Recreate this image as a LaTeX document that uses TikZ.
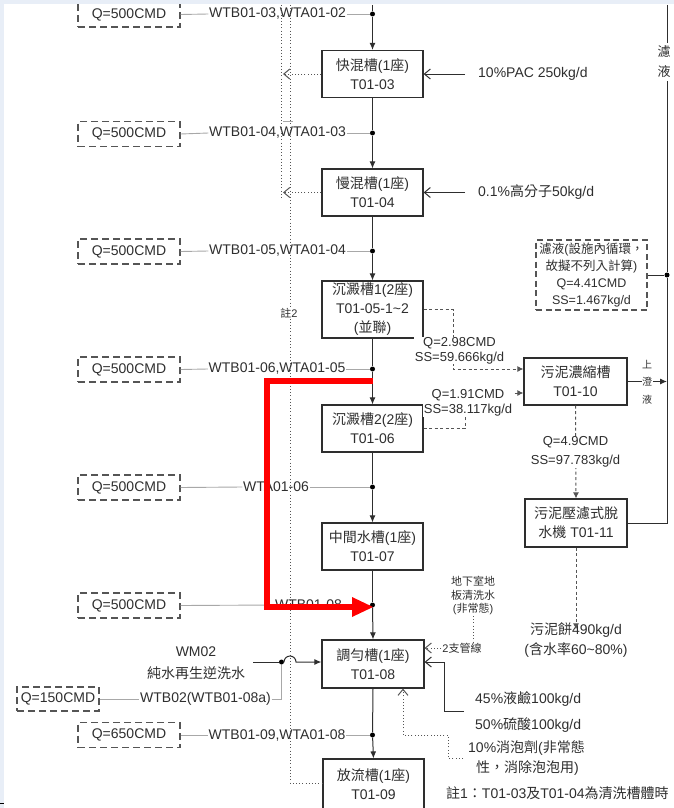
\documentclass[tikz,border=0pt]{standalone}
\usepackage{fontspec}
\setmainfont{Liberation Sans}
\newfontfamily\cjk{Noto Sans CJK TC}
\newcommand\zh[1]{{\cjk #1}}
\usetikzlibrary{arrows.meta}
\definecolor{bgstrip}{HTML}{E8EEF7}
\definecolor{ink}{HTML}{2E2E2E}
\definecolor{qgray}{HTML}{555555}
\definecolor{lgray}{HTML}{A8A8A8}
\newcommand\fsA{\fontsize{14}{19}\selectfont}
\newcommand\fsB{\fontsize{13}{15}\selectfont}
\newcommand\fsC{\fontsize{11}{13.5}\selectfont}
\begin{document}
\begin{tikzpicture}[x=1pt,y=-1pt,
  every node/.append style={text=ink},
  tank/.style={draw=ink, line width=1.2pt, fill=white, minimum width=101pt, minimum height=47pt, align=center, font=\fsA, inner sep=1pt},
  qbox/.style={draw=qgray, line width=1.1pt, dash pattern=on 7pt off 4pt, minimum width=102pt, minimum height=25pt, font=\fsA, inner sep=0pt},
  wlbl/.style={font=\fsA, inner sep=0.5pt},
  gline/.style={draw=lgray, line width=0.9pt},
  flow/.style={draw=ink, line width=1pt},
  fa/.style={flow, -{Latex[length=7pt,width=6pt]}},
  jdot/.style={circle, fill=black, inner sep=0pt, minimum size=5pt},
  sdash/.style={draw=qgray, line width=1pt, dash pattern=on 3pt off 2.5pt},
  sarrow/.style={sdash, -{Latex[length=6pt,width=6pt]}},
  dotl/.style={draw=qgray, line width=1pt, dash pattern=on 1pt off 2.2pt},
  barb/.style={-{Straight Barb[length=6pt,width=10pt]}},
  wlab/.style={fill=white, font=\fsB, align=center, inner sep=0.5pt},
  chem/.style={font=\fsA, anchor=west, inner sep=0pt}
]
\useasboundingbox (0,0) rectangle (674,808);

% ---------------- main tanks ----------------
\node[tank] (T03) at (372.5,74) {\zh{快混槽}(1\zh{座})\\T01-03};
\node[tank] (T04) at (372.5,192.5) {\zh{慢混槽}(1\zh{座})\\T01-04};
\node[tank, minimum height=57pt] (T05) at (372.5,309.5) {\zh{沉澱槽}1(2\zh{座})\\T01-05-1\textasciitilde 2\\(\zh{並聯})};
\node[tank] (T06) at (372.5,428.5) {\zh{沉澱槽}2(2\zh{座})\\T01-06};
\node[tank] (T07) at (372.5,546.5) {\zh{中間水槽}(1\zh{座})\\T01-07};
\node[tank, minimum width=102pt, minimum height=48pt] (T08) at (373,664) {\zh{調勻槽}(1\zh{座})\\T01-08};
\node[tank, minimum height=50pt] (T09) at (373.5,784) {\zh{放流槽}(1\zh{座})\\T01-09};

% ---------------- junction dots ----------------
\node[jdot] (d1) at (372.5,14) {};
\node[jdot] (d2) at (372.5,133) {};
\node[jdot] (d3) at (372.5,251) {};
\node[jdot] (d4) at (372.5,369) {};
\node[jdot] (d5) at (372.5,487) {};
\node[jdot] (d6) at (372.5,605) {};
\node[jdot] (d7) at (372.5,735) {};

% ---------------- Q boxes and line labels ----------------
\node[qbox] (q1) at (129,14.5) {Q=500CMD};
\node[qbox] (q2) at (129,134) {Q=500CMD};
\node[qbox] (q3) at (129,251.5) {Q=500CMD};
\node[qbox] (q4) at (129,369.5) {Q=500CMD};
\node[qbox] (q5) at (129,487.5) {Q=500CMD};
\node[qbox] (q6) at (129,605.5) {Q=500CMD};
\node[qbox] (q7) at (129,735) {Q=650CMD};
\node[qbox, minimum width=82pt, minimum height=24pt] (q8) at (58,699) {Q=150CMD};

\node[wlbl] (w1) at (277.5,14) {WTB01-03,WTA01-02};
\node[wlbl] (w2) at (277.5,133) {WTB01-04,WTA01-03};
\node[wlbl] (w3) at (277.5,251) {WTB01-05,WTA01-04};
\node[wlbl] (w4) at (277,369) {WTB01-06,WTA01-05};
\node[wlbl] (w5) at (276,487) {WTA01-06};
\node[wlbl] (w6) at (308.5,605) {WTB01-08};
\node[wlbl] (w7) at (277,735) {WTB01-09,WTA01-08};
\node[wlbl] (w8) at (205.5,699) {WTB02(WTB01-08a)};

\foreach \i in {1,...,7}{
  \draw[gline] (q\i.east) -- (w\i.west);
  \draw[gline] (w\i.east) -- (d\i);
}

% ---------------- left dotted lines ----------------
\coordinate (l1t) at (281,5);
\coordinate (l1b) at (281,200);
\coordinate (l2t) at (290,5);
\coordinate (l2b) at (290,783);
\coordinate (ar1) at (283,74);
\coordinate (ar2) at (283,192.5);
\coordinate (tk1) at (283,121);
\coordinate (tk2) at (293,121);
\draw[dotl] (l1t) -- (l1b);
\draw[dotl] (l2t) -- (l2b) -- (l2b -| T09.west);
\draw[dotl, barb] (T03.west) -- (ar1);
\draw[dotl, barb] (T04.west) -- (ar2);
\draw[lgray, line width=0.8pt] (tk1) -- (tk2);
\node[font=\fsC, fill=white, inner sep=1pt] (n2) at (289,313) {\zh{註}2};

% ---------------- main flow ----------------
\coordinate (top) at (372.5,5);
\draw[flow] (top) -- (d1);
\draw[fa] (d1) -- (T03.north);
\draw[flow] (T03.south) -- (d2);
\draw[fa] (d2) -- (T04.north);
\draw[flow] (T04.south) -- (d3);
\draw[fa] (d3) -- (T05.north);
\draw[flow] (T05.south) -- (d4);
\draw[fa] (d4) -- (T06.north);
\draw[flow] (T06.south) -- (d5);
\draw[fa] (d5) -- (T07.north);
\draw[flow] (T07.south) -- (d6);
\draw[fa] (d6) -- (T08.north);
\draw[flow] (T08.south) -- (d7);
\draw[fa] (d7) -- (T09.north);

% ---------------- chemicals ----------------
\node[chem] (pac) at (478,74) {10\%PAC 250kg/d};
\node[chem] (poly) at (478,192.5) {0.1\%\zh{高分子}50kg/d};
\draw[flow, barb] ([xshift=-13pt]pac.west) -- (T03.east);
\draw[flow, barb] ([xshift=-13pt]poly.west) -- (T04.east);

% ---------------- WM02 backwash ----------------
\node[font=\fontsize{14}{22}\selectfont, align=center, inner sep=1pt] (wm) at (196,663) {WM02\\\zh{純水再生逆洗水}};
\node[jdot] (wd) at (281.5,662) {};
\coordinate (wms) at (253,662);
\coordinate (jp) at (284,662);
\coordinate (wb) at (281.5,699);
\draw[flow] (wms) -- (wd);
\draw[fa] (wd) -- (jp) arc[start angle=180, end angle=0, radius=6pt] -- (T08.west |- wd);
\draw[gline] (q8.east) -- (w8.west);
\draw[gline] (w8.east) -- (wb) -- (wd);

% ---------------- T01-08 inputs on the right ----------------
\node[chem] (naoh) at (475,699) {45\%\zh{液鹼}100kg/d};
\node[chem] (acid) at (475,725) {50\%\zh{硫酸}100kg/d};
\coordinate (cj1) at (464,711);
\coordinate (cj2) at (444,711);
\coordinate (cj3) at (444,662);
\draw[flow, barb] (cj1) -- (cj2) -- (cj3) -- (cj3 -| T08.east);

\node[chem] (af1) at (468,748) {10\%\zh{消泡劑}(\zh{非常態}};
\node[chem] (af2) at (476,768) {\zh{性，消除泡泡用})};
\coordinate (a1) at (463,758);
\coordinate (a2) at (448,758);
\coordinate (a3) at (448,735);
\coordinate (a4) at (403,735);
\draw[dotl, barb] (a1) -- (a2) -- (a3) -- (a4) -- (a4 |- T08.south);

\node[font=\fsC, align=center, inner sep=1pt] (floor) at (473,595.5) {\zh{地下室地}\\\zh{板清洗水}\\(\zh{非常態})};
\node[font=\fsC, inner sep=1pt] (pipes) at (462,648) {2\zh{支管線}};
\draw[dotl] (floor.south) -- (floor.south |- pipes.north);
\draw[dotl, barb] (pipes.west) -- (pipes.west -| T08.east);

\node[chem] (n1) at (446,793) {\zh{註}1\zh{：}T01-03\zh{及}T01-04\zh{為清洗槽體時}};

% ---------------- sludge train ----------------
\node[tank, minimum width=103pt] (T10) at (575.5,381.5) {\zh{污泥濃縮槽}\\T01-10};
\node[tank, minimum width=102pt, minimum height=48pt] (T11) at (576,523) {\zh{污泥壓濾式脫}\\\zh{水機} T01-11};
\node[font=\fontsize{14}{20}\selectfont, align=center, inner sep=1pt] (cake) at (576,640) {\zh{污泥餅}490kg/d\\(\zh{含水率}60\textasciitilde 80\%)};

\coordinate (sa1) at (453,309.5);
\coordinate (sa2) at (453,369);
\draw[sarrow] (T05.east) -- (sa1) -- (sa2) -- (sa2 -| T10.west);
\node[wlab] (la) at (459.5,350.5) {Q=2.98CMD\\SS=59.666kg/d};

\coordinate (sb1) at (465,428.5);
\coordinate (sb2) at (465,393);
\draw[sarrow] (T06.east) -- (sb1) -- (sb2) -- (sb2 -| T10.west);
\node[wlab] (lb) at (468,403) {Q=1.91CMD\\SS=38.117kg/d};

\draw[sarrow] (T10.south) -- (T11.north);
\node[wlab, font=\fontsize{13}{19}\selectfont] (lc) at (575.5,452) {Q=4.9CMD\\SS=97.783kg/d};
\draw[sarrow] (T11.south) -- ([yshift=-8pt]cake.north);

% ---------------- filtrate return ----------------
\node[qbox, minimum width=111pt, minimum height=70pt, align=center, font=\fontsize{12.5}{17}\selectfont, dash pattern=on 6pt off 3.5pt, inner sep=1pt] (filt) at (591.5,275) {\zh{濾液}(\zh{設施內循環，}\\\zh{故擬不列入計算})\\Q=4.41CMD\\SS=1.467kg/d};
\node[font=\fontsize{13}{20}\selectfont, align=center, inner xsep=1pt, inner ysep=3pt] (flab) at (664,62) {\zh{濾}\\\zh{液}};
\coordinate (rtop) at (667,5);
\coordinate (rc) at (667,523);
\node[jdot] (d8) at (667,275) {};
\draw[flow] (rtop) -- (rtop |- flab.north);
\draw[flow] (T11.east) -- (rc) -- (d8) -- (d8 |- flab.south);
\draw[flow] (filt.east) -- (d8);
\draw[fa] (T10.east) -- (T10.east -| rc);
\node[font=\fontsize{10}{17.5}\selectfont, align=center, fill=white, inner xsep=0.5pt, inner ysep=0pt] (sup) at (647,382) {\zh{上}\\\zh{澄}\\\zh{液}};

% ---------------- red annotation ----------------
\coordinate (r1) at (372.5,381);
\coordinate (r2) at (267,381);
\coordinate (r3) at (267,607);
\coordinate (r4) at (352,607);
\coordinate (r5) at (352,597);
\coordinate (r6) at (373,607);
\coordinate (r7) at (352,617);
\draw[red, line width=6pt] (r1) -- (r2) -- (r3) -- (r4);
\fill[red] (r5) -- (r6) -- (r7) -- cycle;

% ---------------- frame strips ----------------
\coordinate (bg1) at (674,4.5);
\coordinate (bg2) at (4,808);
\coordinate (bd1) at (0,803);
\coordinate (bd2) at (4,803);
\fill[bgstrip] (0,0) rectangle (bg1);
\fill[bgstrip] (0,0) rectangle (bg2);
\draw[black, line width=1pt] (bd1) -- (bd2);
\end{tikzpicture}
\end{document}
